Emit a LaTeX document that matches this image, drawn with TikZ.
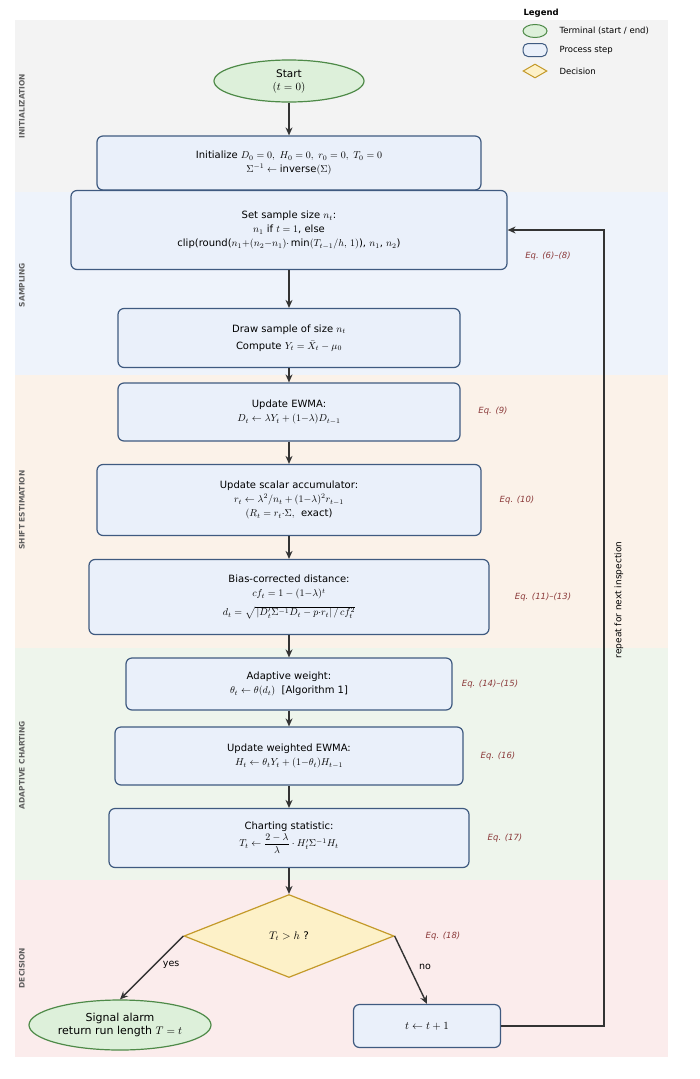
\documentclass[tikz,border=0pt]{standalone}
\usepackage{amsmath}
\usepackage{fontspec}
\setmainfont{DejaVu Sans}
\usetikzlibrary{shapes.geometric,arrows.meta}
\definecolor{procf}{HTML}{EAF0FA}
\definecolor{procd}{HTML}{3F5A80}
\definecolor{termf}{HTML}{DDF0DA}
\definecolor{termd}{HTML}{4E8A48}
\definecolor{decf}{HTML}{FDF1C8}
\definecolor{decd}{HTML}{C49A2A}
\definecolor{eqc}{HTML}{8B3A3A}
\definecolor{bandA}{HTML}{F3F3F3}
\definecolor{bandB}{HTML}{EEF3FB}
\definecolor{bandC}{HTML}{FBF2E9}
\definecolor{bandD}{HTML}{EEF5EC}
\definecolor{bandE}{HTML}{FBECEC}
\tikzset{
 proc/.style={draw=procd,fill=procf,line width=1.2pt,rounded corners=6pt,align=center,inner sep=0pt,font=\fontsize{10}{14}\selectfont},
 term/.style={ellipse,draw=termd,fill=termf,line width=1.2pt,align=center,inner sep=0pt,font=\fontsize{10.5}{13}\selectfont},
 dec/.style={diamond,draw=decd,fill=decf,line width=1.2pt,aspect=2.5,inner sep=0pt,font=\fontsize{10.5}{13}\selectfont},
 eqlab/.style={text=eqc,font=\itshape\fontsize{8.5}{10}\selectfont},
 band/.style={rotate=90,text=gray!75!black,font=\bfseries\fontsize{7.5}{9}\selectfont},
 arr/.style={-{Stealth[length=8pt,width=7pt]},line width=1.4pt,draw=black!80},
 lab/.style={font=\fontsize{9.5}{11}\selectfont}
}
\begin{document}
\begin{tikzpicture}[x=1pt,y=-1pt]
\useasboundingbox[fill=white] (0,0) rectangle (700,1079);
\fill[bandA] (15,20) rectangle (668,192);
\fill[bandB] (15,192) rectangle (668,375);
\fill[bandC] (15,375) rectangle (668,648);
\fill[bandD] (15,648) rectangle (668,880);
\fill[bandE] (15,880) rectangle (668,1057);
\node[band] (bA) at (22,106) {INITIALIZATION};
\node[band] (bB) at (22,285) {SAMPLING};
\node[band] (bC) at (22,510) {SHIFT ESTIMATION};
\node[band] (bD) at (22,765) {ADAPTIVE CHARTING};
\node[band] (bE) at (22,968) {DECISION};
% legend
\node[font=\bfseries\fontsize{8.5}{10}\selectfont,anchor=west] (lg) at (520,13) {Legend};
\node[ellipse,draw=termd,fill=termf,line width=1pt,minimum width=24pt,minimum height=13pt] (l1) at (535,31) {};
\node[rectangle,rounded corners=5pt,draw=procd,fill=procf,line width=1pt,minimum width=24pt,minimum height=13pt] (l2) at (535,50) {};
\node[diamond,aspect=1.6,draw=decd,fill=decf,line width=1pt,minimum width=24pt,minimum height=14pt,inner sep=0pt] (l3) at (535,71) {};
\node[anchor=west,font=\fontsize{8.5}{10}\selectfont] (t1) at (556,31) {Terminal (start / end)};
\node[anchor=west,font=\fontsize{8.5}{10}\selectfont] (t2) at (556,50) {Process step};
\node[anchor=west,font=\fontsize{8.5}{10}\selectfont] (t3) at (556,71) {Decision};
% nodes
\node[term,minimum width=150pt,minimum height=42pt] (start) at (289,81) {Start\\$(t=0)$};
\node[proc,minimum width=384pt,minimum height=54pt] (init) at (289,163) {Initialize $D_0=0,\ H_0=0,\ r_0=0,\ T_0=0$\\$\Sigma^{-1}\leftarrow\text{inverse}(\Sigma)$};
\node[proc,minimum width=436pt,minimum height=79pt] (ss) at (289,230) {Set sample size $n_t$:\\$n_1$ if $t=1$, else\\clip(round($n_1{+}(n_2{-}n_1){\cdot}\min(T_{t-1}/h,\,1)$), $n_1$, $n_2$)};
\node[proc,minimum width=342pt,minimum height=59pt,font=\fontsize{10}{17}\selectfont] (draw) at (289,338) {Draw sample of size $n_t$\\Compute $Y_t=\bar X_t-\mu_0$};
\node[proc,minimum width=342pt,minimum height=58pt] (ewma) at (289,412) {Update EWMA:\\$D_t\leftarrow\lambda Y_t+(1{-}\lambda)D_{t-1}$};
\node[proc,minimum width=384pt,minimum height=71pt] (scal) at (289,500) {Update scalar accumulator:\\$r_t\leftarrow\lambda^2/n_t+(1{-}\lambda)^2r_{t-1}$\\$(R_t=r_t{\cdot}\Sigma,$\ \ exact)};
\node[proc,minimum width=400pt,minimum height=75pt] (bias) at (289,597) {Bias-corrected distance:\\$cf_t=1-(1{-}\lambda)^t$\\[5pt]$d_t=\sqrt{\,|D_t'\Sigma^{-1}D_t-p{\cdot}r_t|\,/\,cf_t^2}$};
\node[proc,minimum width=326pt,minimum height=52pt] (aw) at (289,684) {Adaptive weight:\\$\theta_t\leftarrow\theta(d_t)$\ \ [Algorithm 1]};
\node[proc,minimum width=348pt,minimum height=58pt] (wew) at (289,756) {Update weighted EWMA:\\$H_t\leftarrow\theta_tY_t+(1{-}\theta_t)H_{t-1}$};
\node[proc,minimum width=360pt,minimum height=59pt] (cs) at (289,838) {Charting statistic:\\$T_t\leftarrow\dfrac{2-\lambda}{\lambda}\cdot H_t'\Sigma^{-1}H_t$};
\node[dec,minimum width=210pt,minimum height=83pt] (dec) at (289,936) {$T_t>h$ ?};
\node[term,minimum width=182pt,minimum height=50pt,font=\fontsize{11}{13}\selectfont] (alarm) at (120,1025) {Signal alarm\\return run length $T=t$};
\node[proc,minimum width=147pt,minimum height=43pt,font=\fontsize{10.5}{12}\selectfont] (inc) at (427,1026) {$t\leftarrow t+1$};
% eq labels
\node[eqlab] (e1) at (548,256) {Eq. (6)--(8)};
\node[eqlab] (e2) at (493,411) {Eq. (9)};
\node[eqlab] (e3) at (517,500) {Eq. (10)};
\node[eqlab] (e4) at (543,597) {Eq. (11)--(13)};
\node[eqlab] (e5) at (490,684) {Eq. (14)--(15)};
\node[eqlab] (e6) at (498,756) {Eq. (16)};
\node[eqlab] (e7) at (505,838) {Eq. (17)};
\node[eqlab] (e8) at (443,936) {Eq. (18)};
% arrows
\draw[arr] (start) -- (init);
\draw[arr] (ss) -- (draw);
\draw[arr] (draw) -- (ewma);
\draw[arr] (ewma) -- (scal);
\draw[arr] (scal) -- (bias);
\draw[arr] (bias) -- (aw);
\draw[arr] (aw) -- (wew);
\draw[arr] (wew) -- (cs);
\draw[arr] (cs) -- (dec);
\draw[arr] (dec.west) -- node[lab,pos=0.45,right=4pt] {yes} (alarm.north);
\draw[arr] (dec.east) -- node[lab,pos=0.45,right=6pt] {no} (inc.north);
\coordinate (c1) at (604,1026);
\coordinate (c2) at (604,230);
\draw[arr,line width=1.2pt] (inc.east) -- (c1) -- (c2) -- (ss.east);
\node[rotate=90,font=\fontsize{9}{10}\selectfont] (rep) at (619,600) {repeat for next inspection};
\end{tikzpicture}
\end{document}
